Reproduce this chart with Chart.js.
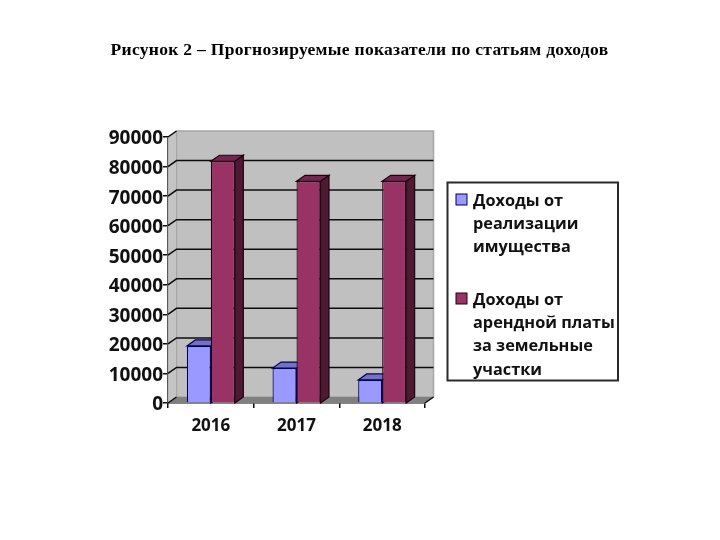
<!DOCTYPE html>
<html lang="ru">
<head>
<meta charset="utf-8">
<title>Рисунок 2</title>
<script src="https://cdn.jsdelivr.net/npm/chart.js@4/dist/chart.umd.min.js"></script>
<style>
  html, body { margin: 0; padding: 0; background: #fff; }
  canvas { display: block; }
</style>
</head>
<body>
<canvas id="chart" width="720" height="540"></canvas>
<script>
// Data
const years = ['2016', '2017', '2018'];
const propertySales = [19300, 11800, 7800];
const landRent = [81800, 75000, 75000];
const yMax = 90000;
const yStep = 10000;
const titleText = 'Рисунок 2 – Прогнозируемые показатели по статьям доходов';
const propertyLabel = ['Доходы от', 'реализации', 'имущества'];
const rentLabel = ['Доходы от', 'арендной платы', 'за земельные', 'участки'];

// 3D look
const depthX = 8.5;
const depthY = -6;
const blueColors = { front: '#9999ff', top: '#7272c0', side: '#4d4d80', line: '#000060' };
const maroonColors = { front: '#993366', top: '#732650', side: '#4d1a33', line: '#20000f' };

function poly(ctx, pts, fill, stroke, lw) {
  ctx.beginPath();
  pts.forEach((p, i) => i ? ctx.lineTo(p[0], p[1]) : ctx.moveTo(p[0], p[1]));
  ctx.closePath();
  if (fill) { ctx.fillStyle = fill; ctx.fill(); }
  if (stroke) { ctx.strokeStyle = stroke; ctx.lineWidth = lw || 1; ctx.stroke(); }
}

// walls, floor and gridlines on the back wall
const wallPlugin = {
  id: 'wall',
  beforeDatasetsDraw(chart) {
    const ctx = chart.ctx;
    const { left, right, top, bottom } = chart.chartArea;
    const y = chart.scales.y;
    ctx.save();
    poly(ctx, [[left + depthX, top + depthY], [right + depthX, top + depthY], [right + depthX, bottom + depthY], [left + depthX, bottom + depthY]], '#c0c0c0', '#a6a6a6', 1.5);
    poly(ctx, [[left, top], [left + depthX, top + depthY], [left + depthX, bottom + depthY], [left, bottom]], '#c4c4c4', '#a6a6a6', 1);
    poly(ctx, [[left, bottom], [left + depthX, bottom + depthY], [right + depthX, bottom + depthY], [right, bottom]], '#808080', null);
    ctx.strokeStyle = '#0c0c0c';
    ctx.lineWidth = 1.5;
    y.ticks.forEach(t => {
      const py = y.getPixelForValue(t.value);
      ctx.beginPath();
      ctx.moveTo(left, py);
      ctx.lineTo(left + depthX, py + depthY);
      if (t.value > 0 && t.value < yMax) ctx.lineTo(right + depthX, py + depthY);
      ctx.stroke();
    });
    ctx.beginPath();
    ctx.moveTo(right, bottom);
    ctx.lineTo(right + depthX, bottom + depthY);
    ctx.stroke();

    // side and top faces of the bars
    [[0, blueColors], [1, maroonColors]].forEach(([idx, c]) => {
      chart.getDatasetMeta(idx).data.forEach(bar => {
        const x0 = bar.x - bar.width / 2;
        const x1 = bar.x + bar.width / 2;
        poly(ctx, [[x1, bar.y], [x1 + depthX, bar.y + depthY], [x1 + depthX, bottom + depthY], [x1, bottom]], c.side, c.line, 1.2);
        poly(ctx, [[x0, bar.y], [x0 + depthX, bar.y + depthY], [x1 + depthX, bar.y + depthY], [x1, bar.y]], c.top, c.line, 1.2);
      });
    });
    ctx.restore();
  }
};

// page heading and boxed legend with wrapped labels
const textPlugin = {
  id: 'textBlocks',
  afterDraw(chart) {
    const ctx = chart.ctx;
    ctx.save();
    ctx.font = 'bold 17.5px "Liberation Serif"';
    ctx.letterSpacing = '0.3px';
    ctx.fillStyle = '#000';
    ctx.textAlign = 'center';
    ctx.textBaseline = 'middle';
    ctx.fillText(titleText, 359.5, 50);
    ctx.letterSpacing = '0px';

    ctx.textAlign = 'left';
    ctx.strokeStyle = '#2a2a2a';
    ctx.lineWidth = 2;
    ctx.strokeRect(447.5, 182.5, 170.5, 198);
    ctx.font = 'bold 16.3px "Open Sans"';
    [[propertyLabel, blueColors, 200], [rentLabel, maroonColors, 299]].forEach(([lines, c, y0]) => {
      ctx.fillStyle = c.front;
      ctx.fillRect(456, y0 - 6, 11, 11);
      ctx.strokeStyle = c.line;
      ctx.lineWidth = 1;
      ctx.strokeRect(456, y0 - 6, 11, 11);
      ctx.fillStyle = '#111';
      lines.forEach((line, i) => ctx.fillText(line, 473, y0 + 1 + i * 23.3));
    });
    ctx.restore();
  }
};

new Chart(document.getElementById('chart'), {
  type: 'bar',
  data: {
    labels: years,
    datasets: [
      { label: propertyLabel.join(' '), data: propertySales, backgroundColor: blueColors.front, borderColor: blueColors.line, borderWidth: 1.2 },
      { label: rentLabel.join(' '), data: landRent, backgroundColor: maroonColors.front, borderColor: maroonColors.line, borderWidth: 1.2 }
    ]
  },
  options: {
    responsive: false,
    animation: false,
    layout: { padding: { left: 0, right: 295, top: 137, bottom: 0 } },
    datasets: { bar: { categoryPercentage: 0.56, barPercentage: 1 } },
    plugins: {
      legend: { display: false },
      tooltip: { enabled: false },
      title: { display: false }
    },
    scales: {
      x: {
        afterFit(scale) { scale.height = 137; },
        border: { color: '#0c0c0c', width: 1.5 },
        grid: { drawOnChartArea: false, drawTicks: true, tickLength: 5, color: '#0c0c0c', lineWidth: 1.5 },
        ticks: { color: '#111', padding: 8, maxRotation: 0, font: { family: '"Open Sans"', size: 17, weight: 'bold' } }
      },
      y: {
        min: 0,
        max: yMax,
        afterFit(scale) { scale.width = 168; },
        border: { color: '#0c0c0c', width: 1.5 },
        grid: { drawOnChartArea: false, drawTicks: true, tickLength: 5, color: '#0c0c0c', lineWidth: 1.5 },
        ticks: {
          stepSize: yStep,
          color: '#111',
          padding: 0,
          labelOffset: 2,
          font: { family: '"Open Sans"', size: 19, weight: 'bold' },
          callback: v => String(v)
        }
      }
    }
  },
  plugins: [wallPlugin, textPlugin]
});
</script>
</body>
</html>
